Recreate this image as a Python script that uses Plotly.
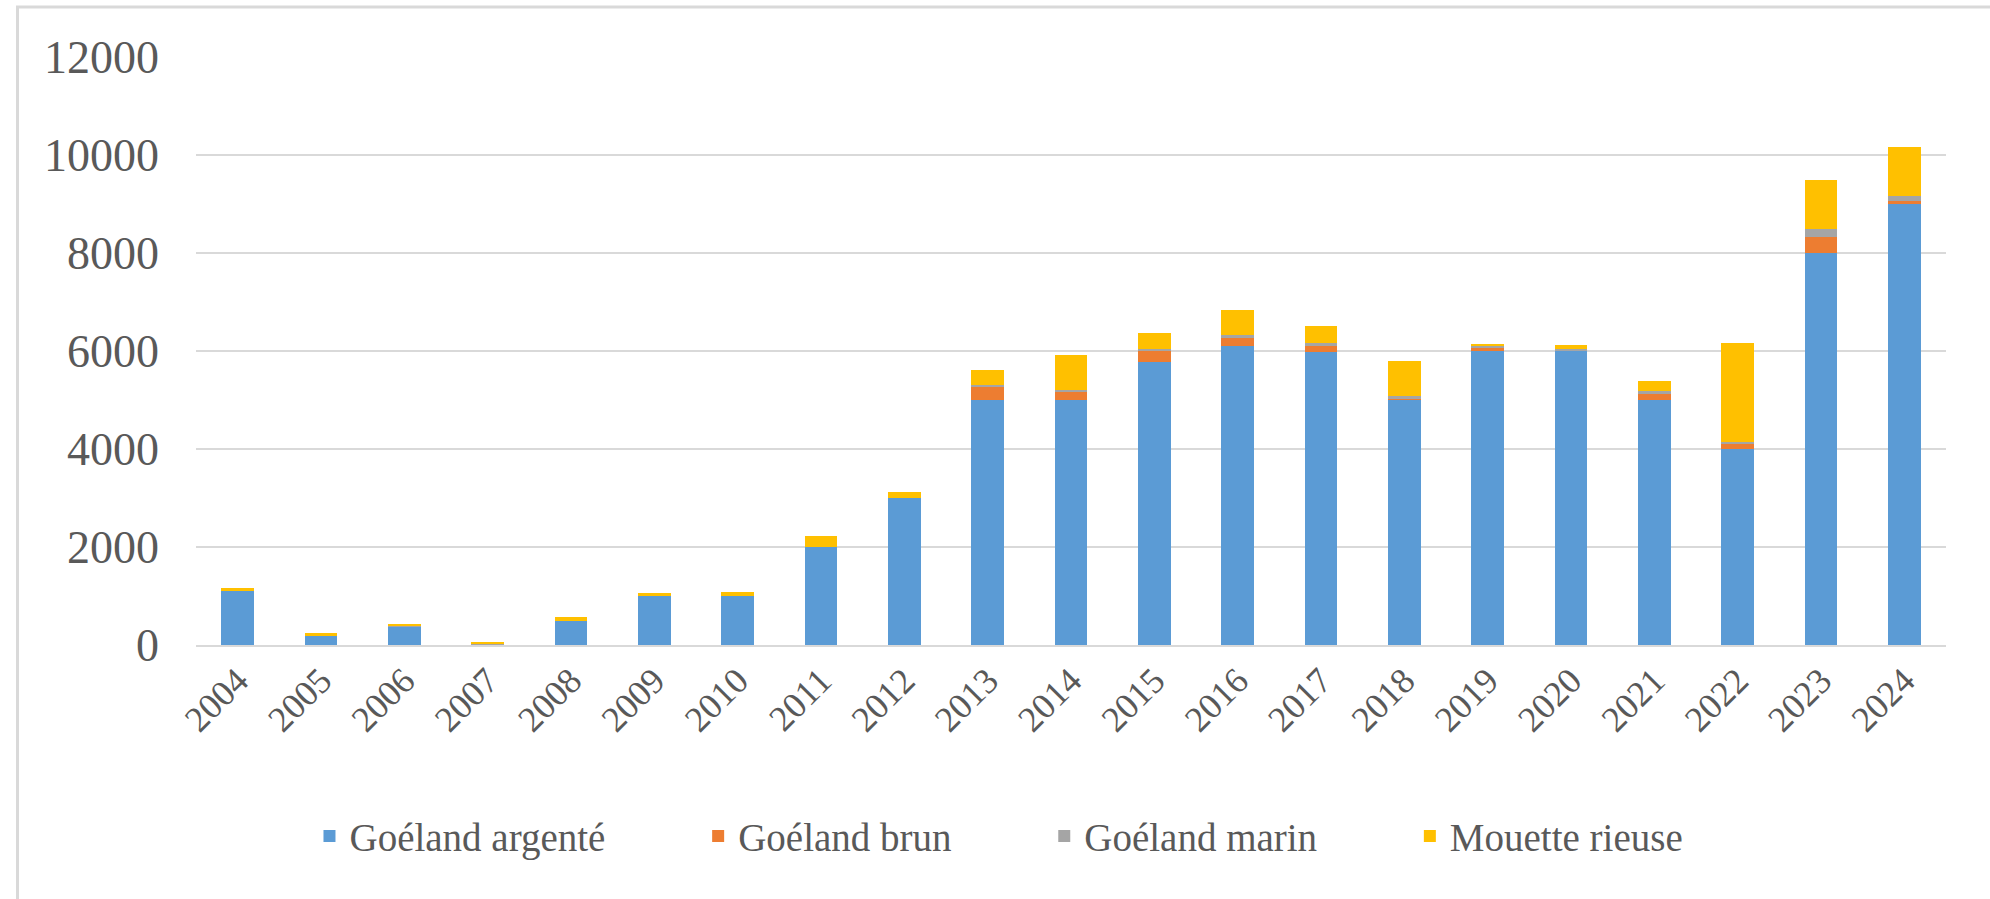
import plotly.graph_objects as go

years = ["2004", "2005", "2006", "2007", "2008", "2009", "2010", "2011", "2012", "2013", "2014",
         "2015", "2016", "2017", "2018", "2019", "2020", "2021", "2022", "2023", "2024"]

goeland_argente = [1100, 190, 380, 20, 490, 1000, 1000, 2000, 3000, 5000, 5000,
                   5780, 6100, 5970, 5000, 6000, 6020, 5000, 4000, 8000, 9000]
goeland_brun = [0, 0, 0, 0, 0, 10, 0, 0, 0, 270, 180,
                220, 170, 130, 30, 70, 0, 130, 100, 330, 70]
goeland_marin = [0, 0, 20, 10, 0, 0, 0, 0, 0, 40, 30,
                 40, 60, 60, 60, 40, 20, 50, 50, 170, 100]
mouette_rieuse = [70, 50, 20, 20, 80, 50, 80, 220, 130, 300, 710,
                  330, 510, 360, 700, 30, 80, 200, 2020, 1000, 1000]

series_names = ["Goéland argenté", "Goéland brun", "Goéland marin", "Mouette rieuse"]
series_values = [goeland_argente, goeland_brun, goeland_marin, mouette_rieuse]
series_colors = ["#5b9bd5", "#ed7d31", "#a5a5a5", "#ffc000"]

y_ticks = [0, 2000, 4000, 6000, 8000, 10000, 12000]

FONT = "Liberation Serif"
TXT = "#595959"
PAD = "\u00a0" * 9

fig = go.Figure()
for i, (name, vals, col) in enumerate(zip(series_names, series_values, series_colors)):
    label = name + (PAD if i < len(series_names) - 1 else "")
    fig.add_trace(go.Bar(x=years, y=vals, name=label, hovertext=name,
                         marker=dict(color=col, line=dict(width=0))))

fig.update_layout(
    barmode="stack",
    bargap=0.61,
    width=1990, height=899,
    margin=dict(l=196, r=44, t=57, b=254),
    plot_bgcolor="white", paper_bgcolor="white",
    font=dict(family=FONT, color=TXT, size=40),
    showlegend=True,
    legend=dict(orientation="h", xref="container", yref="container", x=0.502, y=0.07,
                xanchor="center", yanchor="middle", font=dict(size=39, family=FONT, color=TXT),
                traceorder="normal"),
    xaxis=dict(type="category", tickangle=-45, tickfont=dict(size=36, family=FONT, color=TXT),
               showgrid=False, showline=True, linecolor="#d9d9d9", linewidth=2, ticks="",
               ticklabelstandoff=-2, automargin=False),
    yaxis=dict(range=[0, 12000], tickvals=y_ticks, ticktext=[str(v) for v in y_ticks],
               tickfont=dict(size=46, family=FONT, color=TXT), showgrid=True,
               gridcolor="#d9d9d9", gridwidth=2, zeroline=False, showline=False, ticks="",
               ticklabelstandoff=36, automargin=False),
    shapes=[dict(type="rect", xref="paper", yref="paper", x0=-0.102, x1=1.1, y0=-2, y1=1.085,
                 line=dict(color="#d9d9d9", width=3), fillcolor="rgba(0,0,0,0)", layer="below")],
)

fig.write_html("out.html", config={"displayModeBar": False},
               post_script="document.body.style.margin='0px';")
